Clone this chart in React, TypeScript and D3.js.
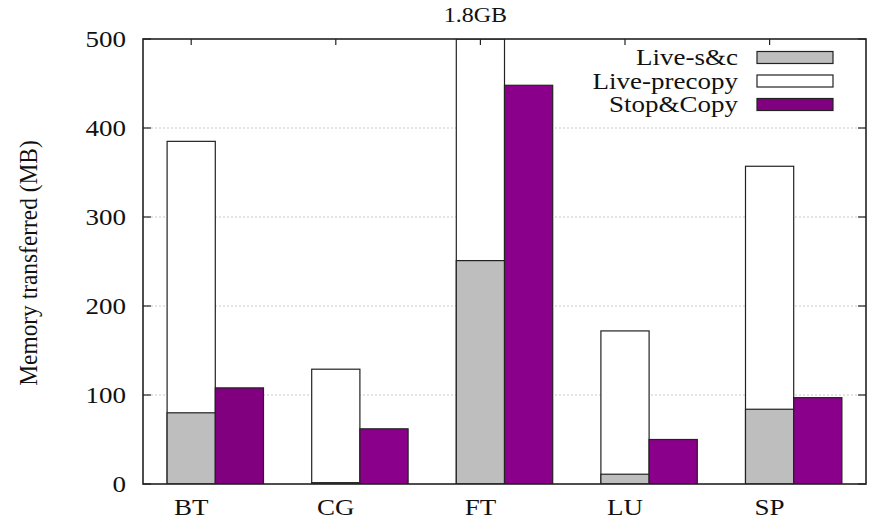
import React from "react";
import * as d3 from "d3";

const categories = ["BT", "CG", "FT", "LU", "SP"];
const liveSC = [80, 1.5, 251, 11, 84];
const livePrecopy = [385, 129, 1800, 172, 357];
const stopCopy = [108, 62, 448, 50, 97];
const yTicks = [0, 100, 200, 300, 400, 500];
const legendLabels = ["Live-s&c", "Live-precopy", "Stop&Copy"];
const overflowLabel = "1.8GB";
const yTitle = "Memory transferred (MB)";

const W = 870, H = 519;
const M = { left: 143, right: 866, top: 39, bottom: 484 };
const FONT = "'Liberation Serif', 'DejaVu Serif', 'Times New Roman', serif";
const SX = 1.2;
const GRAY = "#bebebe";
const PURPLE = "#8b008b";
const PURPLE_DARK = "#800080";

function SText({ x, y, children, anchor = "middle", size = 22.5, baseline = "auto", rotate = 0, sx = SX }: any) {
  const tf = rotate
    ? `translate(${x},${y}) rotate(${rotate}) scale(1,${sx})`
    : `translate(${x},${y}) scale(${sx},1)`;
  return (
    <text transform={tf} textAnchor={anchor} dominantBaseline={baseline} fontFamily={FONT} fontSize={size} fill="#111">
      {children}
    </text>
  );
}

export default function App() {
  const x0 = d3.scaleBand<string>().domain(categories).range([M.left, M.right]).padding(0);
  const x1 = d3.scaleBand<string>().domain(["live", "stop"]).range([0, x0.bandwidth()]).paddingInner(0).paddingOuter(0.5);
  const y = d3.scaleLinear().domain([0, 500]).range([M.bottom, M.top]).clamp(true);
  const bw = x1.bandwidth();

  return (
    <svg width={W} height={H} style={{ position: "absolute", left: 0, top: 0, background: "#fff" }}>
      <defs>
        <clipPath id="plotclip">
          <rect x={M.left} y={M.top} width={M.right - M.left} height={M.bottom - M.top} />
        </clipPath>
      </defs>
      {/* grid */}
      {yTicks.filter(t => t > 0 && t < 500).map(t => (
        <line key={"g" + t} x1={M.left} x2={M.right} y1={y(t)} y2={y(t)} stroke="#bbb" strokeWidth={0.8} strokeDasharray="2,2" />
      ))}
      {/* bars */}
      <g clipPath="url(#plotclip)">
        {categories.map((c, i) => {
          const xl = x0(c)! + x1("live")!;
          const xs = x0(c)! + x1("stop")!;
          return (
            <g key={c}>
              <rect x={xl} y={y(livePrecopy[i])} width={bw} height={y(0) - y(livePrecopy[i])} fill="#fff" stroke="#222" strokeWidth={1.2} />
              <rect x={xl} y={y(liveSC[i])} width={bw} height={y(0) - y(liveSC[i])} fill={GRAY} stroke="#222" strokeWidth={1.2} />
              <rect x={xs} y={y(stopCopy[i])} width={bw} height={y(0) - y(stopCopy[i])} fill={c === "BT" ? PURPLE_DARK : PURPLE} stroke="#222" strokeWidth={1.2} />
            </g>
          );
        })}
      </g>
      {/* ticks */}
      {yTicks.map(t => (
        <g key={"t" + t}>
          <line x1={M.left} x2={M.left + 8} y1={y(t)} y2={y(t)} stroke="#222" strokeWidth={1.2} />
          <line x1={M.right} x2={M.right - 8} y1={y(t)} y2={y(t)} stroke="#222" strokeWidth={1.2} />
          <SText x={126} y={y(t)} anchor="end" baseline="central">{t}</SText>
        </g>
      ))}
      {categories.map(c => {
        const cx = x0(c)! + x1("live")! + bw / 2;
        return (
          <g key={"x" + c}>
            <line x1={cx} x2={cx} y1={M.top} y2={M.top + 6} stroke="#222" strokeWidth={1.2} />
            <SText x={cx} y={514.5}>{c}</SText>
          </g>
        );
      })}
      {/* border */}
      <rect x={M.left} y={M.top} width={M.right - M.left} height={M.bottom - M.top} fill="none" stroke="#222" strokeWidth={1.6} />
      {/* overflow label */}
      <SText x={x0("FT")! + x1("live")! + bw / 2 - 5} y={22} size={20}>{overflowLabel}</SText>
      {/* y title */}
      <SText x={37} y={263} rotate={-90} size={23.4} sx={1.1}>{yTitle}</SText>
      {/* legend */}
      {legendLabels.map((l, i) => {
        const cy = 57.5 + i * 23.5;
        const fill = i === 0 ? GRAY : i === 1 ? "#fff" : PURPLE_DARK;
        return (
          <g key={l}>
            <SText x={738} y={cy} anchor="end" baseline="central">{l}</SText>
            <rect x={757} y={cy - 6} width={76} height={12} fill={fill} stroke="#222" strokeWidth={1.2} />
          </g>
        );
      })}
    </svg>
  );
}
